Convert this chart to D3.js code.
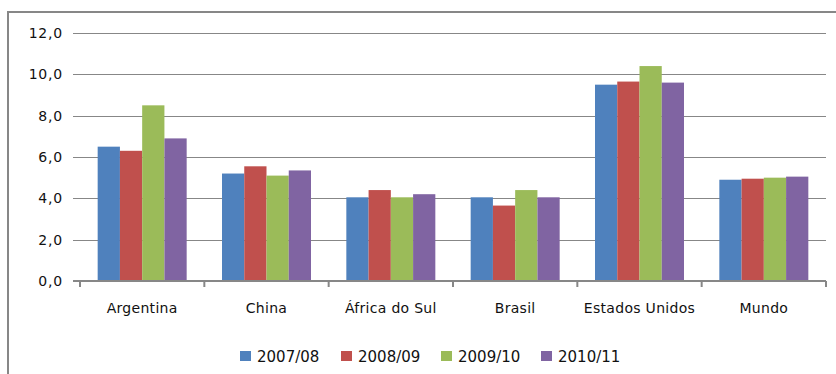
<!DOCTYPE html>
<html>
<head>
<meta charset="utf-8">
<script src="https://cdn.jsdelivr.net/npm/d3@7"></script>
<style>
  html, body { margin: 0; padding: 0; background: #fff; }
  svg { display: block; }
  text { font-family: "DejaVu Sans", Verdana, sans-serif; fill: #111; }
</style>
</head>
<body>
<svg id="chart" width="836" height="374"></svg>
<script>
// Categories, series names and values
const categories = ["Argentina", "China", "África do Sul", "Brasil", "Estados Unidos", "Mundo"];
const seriesNames = ["2007/08", "2008/09", "2009/10", "2010/11"];
const seriesColors = ["#4F81BD", "#C0504D", "#9BBB59", "#8064A2"];
const values2007 = [6.5, 5.2, 4.05, 4.05, 9.5, 4.9];
const values2008 = [6.3, 5.55, 4.4, 3.65, 9.65, 4.95];
const values2009 = [8.5, 5.1, 4.05, 4.4, 10.4, 5.0];
const values2010 = [6.9, 5.35, 4.2, 4.05, 9.6, 5.05];
const yTicks = [0, 2, 4, 6, 8, 10, 12];

const seriesValues = [values2007, values2008, values2009, values2010];

const svg = d3.select("#chart");
const W = 836, H = 374;
const plot = { left: 80, right: 826, top: 33, bottom: 281 };

// outer frame (left and top edges visible)
svg.append("path")
  .attr("d", `M8,${H} L8,12 L${W},12`)
  .attr("fill", "none")
  .attr("stroke", "#878787")
  .attr("stroke-width", 2);

const y = d3.scaleLinear().domain([0, 12]).range([plot.bottom, plot.top]);
const x0 = d3.scaleBand().domain(categories).range([plot.left, plot.right]);
const x1 = d3.scaleBand().domain(seriesNames).range([0, x0.bandwidth()])
  .paddingInner(0).paddingOuter(0.794);

// gridlines, extended left as tick marks
svg.append("g").selectAll("line")
  .data(yTicks.filter(t => t > 0))
  .join("line")
  .attr("x1", 73).attr("x2", plot.right)
  .attr("y1", d => Math.round(y(d)) + 0.5)
  .attr("y2", d => Math.round(y(d)) + 0.5)
  .attr("stroke", "#878787")
  .attr("stroke-width", 1);

// y tick labels
const fmt = d => d3.format(".1f")(d).replace(".", ",");
svg.append("g").selectAll("text")
  .data(yTicks)
  .join("text")
  .attr("x", 63)
  .attr("y", d => y(d) + 5)
  .attr("text-anchor", "end")
  .style("font-size", "14px")
  .style("letter-spacing", "0.8px")
  .text(fmt);

// bars
const groups = svg.append("g").selectAll("g")
  .data(categories)
  .join("g")
  .attr("transform", d => `translate(${x0(d)},0)`);

groups.selectAll("rect")
  .data((c, i) => seriesNames.map((s, k) => ({ s, k, v: seriesValues[k][i] })))
  .join("rect")
  .attr("x", d => x1(d.s))
  .attr("width", x1.bandwidth())
  .attr("y", d => y(d.v))
  .attr("height", d => y(0) - y(d.v))
  .attr("fill", d => seriesColors[d.k]);

// x axis line with category boundary ticks
svg.append("line")
  .attr("x1", 73).attr("x2", plot.right)
  .attr("y1", plot.bottom).attr("y2", plot.bottom)
  .attr("stroke", "#878787")
  .attr("stroke-width", 2);

const boundaries = categories.map(c => x0(c)).concat([plot.right]);
svg.append("g").selectAll("line")
  .data(boundaries)
  .join("line")
  .attr("x1", d => d).attr("x2", d => d)
  .attr("y1", plot.bottom).attr("y2", plot.bottom + 6)
  .attr("stroke", "#878787")
  .attr("stroke-width", 2);

// category labels
svg.append("g").selectAll("text")
  .data(categories)
  .join("text")
  .attr("x", d => x0(d) + x0.bandwidth() / 2)
  .attr("y", 313)
  .attr("text-anchor", "middle")
  .style("font-size", "14px")
  .style("letter-spacing", "0.3px")
  .text(d => d);

// legend
const legendX = [240, 341, 441, 541];
const legend = svg.append("g").selectAll("g")
  .data(seriesNames)
  .join("g")
  .attr("transform", (d, i) => `translate(${legendX[i]},351)`);
legend.append("rect")
  .attr("width", 11).attr("height", 10)
  .attr("fill", (d, i) => seriesColors[i]);
legend.append("text")
  .attr("x", 17).attr("y", 10.5)
  .style("font-size", "15px")
  .text(d => d);
</script>
</body>
</html>
